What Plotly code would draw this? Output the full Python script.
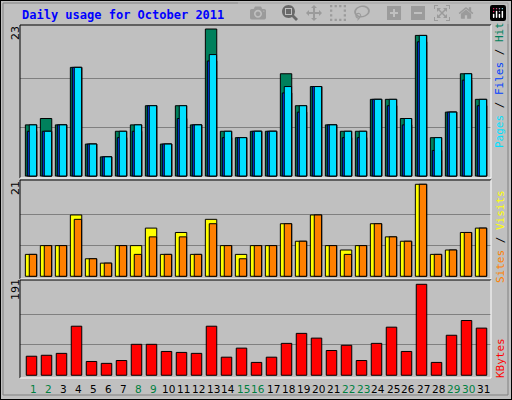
import plotly.graph_objects as go

days = list(range(1, 32))
day_labels = [str(d) for d in days]
weekend = [1, 2, 8, 9, 15, 16, 22, 23, 29, 30]
hits = [8,9,8,17,5,3,7,8,11,5,11,8,23,7,6,7,7,16,11,14,8,7,7,12,12,9,22,6,10,16,12]
files_cyan = [8,7,8,17,5,3,7,8,11,5,11,8,19,7,6,7,7,14,11,14,8,7,7,12,12,9,22,6,10,16,12]
pages_blue = [7,7,8,17,5,3,6,7,11,5,9,8,18,6,6,7,7,13,10,14,8,6,6,12,11,8,21,4,10,15,11]
visits_yellow = [5,7,7,14,4,3,7,7,11,5,10,5,13,7,5,7,7,12,8,14,7,6,7,12,9,8,21,5,6,10,11]
sites_orange = [5,7,7,13,4,3,7,5,9,5,9,5,12,7,4,7,7,12,8,14,7,5,7,12,9,8,21,5,6,10,11]
kbytes = [40,42,46,103,29,25,31,65,65,50,48,46,103,38,57,27,38,67,88,78,52,63,31,67,101,50,191,27,84,115,99]
max_hits, max_visits, max_kb = 23, 21, 191

W, H = 512, 400
def yf(px): return 1 - px / H

fig = go.Figure()
line = dict(color="black", width=1)
def bar(y, color, off, wid, ax):
    fig.add_trace(go.Bar(x=days, y=y, marker=dict(color=color, line=line),
                         offset=off, width=wid, xaxis="x", yaxis=ax, showlegend=False))

bar(hits, "#00805C", -0.51, 0.76, "y")
bar(pages_blue, "#0040FF", -0.38, 0.63, "y")
bar(files_cyan, "#00E0FF", -0.25, 0.49, "y")
bar(visits_yellow, "#FFFF00", -0.51, 0.76, "y2")
bar(sites_orange, "#FF8000", -0.25, 0.49, "y2")
bar(kbytes, "#FF0000", -0.45, 0.70, "y3")

grid = dict(showgrid=True, gridcolor="#808080", gridwidth=1, showticklabels=False,
            zeroline=False, ticks="", showline=False, fixedrange=True)
xr = [1 + (20 - 33) / 15, 1 + (491 - 33) / 15]
fig.update_layout(
    width=W, height=H, margin=dict(l=0, r=0, t=0, b=0),
    paper_bgcolor="#C0C0C0", plot_bgcolor="#C0C0C0", barmode="overlay",
    xaxis=dict(domain=[20/W, 491/W], range=xr, showgrid=False, showticklabels=False,
               zeroline=False, anchor="y3"),
    yaxis=dict(domain=[yf(178), yf(25)], range=[-0.31, 23.63],
               tickvals=[max_hits/3, 2*max_hits/3], **grid),
    yaxis2=dict(domain=[yf(279), yf(180)], range=[-0.62, 21.98],
                tickvals=[max_visits/3, 2*max_visits/3], **grid),
    yaxis3=dict(domain=[yf(378), yf(280)], range=[-5.7, 200],
                tickvals=[max_kb/3, 2*max_kb/3], **grid),
)

shapes = []
shapes.append(dict(type="rect", xref="paper", yref="paper", x0=0, x1=1, y0=0, y1=1,
                   line=dict(color="black", width=2), fillcolor="rgba(0,0,0,0)"))
shapes.append(dict(type="rect", xref="paper", yref="paper", x0=3/W, x1=(W-4)/W, y0=yf(H-5), y1=yf(3),
                   line=dict(color="#808080", width=1), fillcolor="rgba(0,0,0,0)"))
for top, bot in [(25, 178), (180, 279), (280, 378)]:
    x0, x1 = 20/W, 491/W
    shapes.append(dict(type="line", xref="paper", yref="paper", x0=x0, x1=x1, y0=yf(top), y1=yf(top), line=dict(color="black", width=1)))
    shapes.append(dict(type="line", xref="paper", yref="paper", x0=x0, x1=x0, y0=yf(top), y1=yf(bot), line=dict(color="black", width=1)))
    shapes.append(dict(type="line", xref="paper", yref="paper", x0=x0, x1=x1, y0=yf(bot), y1=yf(bot), line=dict(color="white", width=1)))
    shapes.append(dict(type="line", xref="paper", yref="paper", x0=x1, x1=x1, y0=yf(top), y1=yf(bot), line=dict(color="white", width=1)))
fig.update_layout(shapes=shapes)

ann = []
mono = "DejaVu Sans Mono"
ann.append(dict(text="<b>Daily usage for October 2011</b>", x=20/W, y=yf(15), xref="paper", yref="paper",
                xanchor="left", yanchor="middle", showarrow=False, font=dict(family=mono, size=12, color="#0000FF")))
for txt, ypx in [(str(max_hits), 33), (str(max_visits), 188), (str(max_kb), 290)]:
    ann.append(dict(text=txt, x=15/W, y=yf(ypx), xref="paper", yref="paper", textangle=-90,
                    xanchor="center", yanchor="middle", showarrow=False,
                    font=dict(family="DejaVu Sans", size=11, color="black")))
ann.append(dict(text="<span style='color:#00E0FF'>Pages</span><span style='color:#000000'> / </span>"
                     "<span style='color:#0040FF'>Files</span><span style='color:#000000'> / </span>"
                     "<span style='color:#00805C'>Hits</span>",
                x=500/W, y=yf(82), xref="paper", yref="paper", textangle=-90, showarrow=False,
                xanchor="center", yanchor="middle", font=dict(family=mono, size=11)))
ann.append(dict(text="<span style='color:#FF8000'>Sites</span><span style='color:#000000'> / </span>"
                     "<span style='color:#FFFF00'>Visits</span>",
                x=500/W, y=yf(237), xref="paper", yref="paper", textangle=-90, showarrow=False,
                xanchor="center", yanchor="middle", font=dict(family=mono, size=11)))
ann.append(dict(text="KBytes", x=500/W, y=yf(358), xref="paper", yref="paper", textangle=-90, showarrow=False,
                xanchor="center", yanchor="middle", font=dict(family=mono, size=11, color="#FF0000")))
for d, lab in zip(days, day_labels):
    ann.append(dict(text=lab, x=d, y=yf(389), xref="x", yref="paper", showarrow=False,
                    xanchor="center", yanchor="middle",
                    font=dict(family="DejaVu Sans", size=10.5, color="#008040" if d in weekend else "black")))
fig.update_layout(annotations=ann)

fig.write_html("out.html", post_script="document.body.style.margin='0';document.body.style.overflow='hidden';")
